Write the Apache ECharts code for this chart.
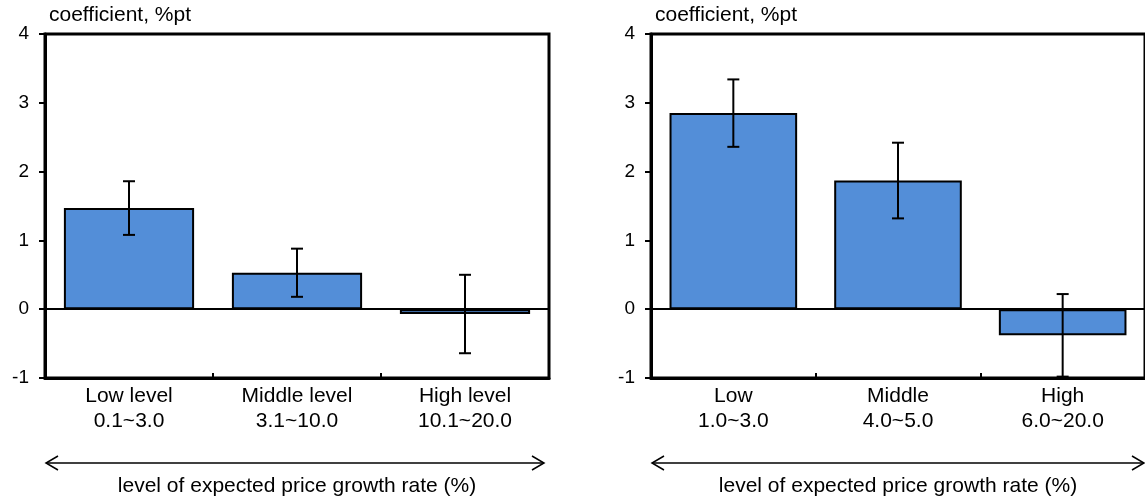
<!DOCTYPE html>
<html>
<head>
<meta charset="utf-8">
<script src="https://cdn.jsdelivr.net/npm/echarts@6/dist/echarts.min.js"></script>
<style>
html,body{margin:0;padding:0;background:#fff;}
#chart{width:1145px;height:502px;}
</style>
</head>
<body>
<div id="chart"></div>
<script>
// ---- data ----
const categoriesLeft = ['Low level\n0.1~3.0', 'Middle level\n3.1~10.0', 'High level\n10.1~20.0'];
const valuesLeft = [1.47, 0.53, -0.07];
const errLowLeft = [1.08, 0.18, -0.64];
const errHighLeft = [1.86, 0.88, 0.50];

const categoriesRight = ['Low\n1.0~3.0', 'Middle\n4.0~5.0', 'High\n6.0~20.0'];
const valuesRight = [2.85, 1.87, -0.38];
const errLowRight = [2.36, 1.32, -0.98];
const errHighRight = [3.34, 2.42, 0.22];

const yTicks = [-1, 0, 1, 2, 3, 4];
const yName = 'coefficient, %pt';
const xName = 'level of expected price growth rate (%)';

// ---- chart ----
const FONT = "'Liberation Sans', Arial, sans-serif";
const chart = echarts.init(document.getElementById('chart'), null, {renderer: 'canvas'});

function errData(lo, hi) {
  return lo.map((v, i) => [i, v, hi[i]]);
}
function renderErr(params, api) {
  const x = api.value(0);
  const lo = api.coord([x, api.value(1)]);
  const hi = api.coord([x, api.value(2)]);
  const cap = 6;
  const st = {stroke: '#000', lineWidth: 2};
  return {
    type: 'group',
    children: [
      {type: 'line', shape: {x1: hi[0], y1: hi[1], x2: lo[0], y2: lo[1]}, style: st},
      {type: 'line', shape: {x1: hi[0] - cap, y1: hi[1], x2: hi[0] + cap, y2: hi[1]}, style: st},
      {type: 'line', shape: {x1: lo[0] - cap, y1: lo[1], x2: lo[0] + cap, y2: lo[1]}, style: st}
    ]
  };
}

function xAxisFor(idx, cats) {
  return {
    type: 'category', gridIndex: idx, data: cats, position: 'bottom',
    axisLine: {onZero: false, lineStyle: {color: '#000', width: 3}},
    axisTick: {show: true, inside: true, length: 5, interval: 0, lineStyle: {color: '#000', width: 2}},
    axisLabel: {color: '#000', fontFamily: FONT, fontSize: 21, lineHeight: 25, margin: 6, interval: 0},
    name: xName, nameLocation: 'middle', nameGap: 98,
    nameTextStyle: {color: '#000', fontFamily: FONT, fontSize: 21},
    splitLine: {show: false}
  };
}
function yAxisFor(idx) {
  return {
    type: 'value', gridIndex: idx, min: yTicks[0], max: yTicks[yTicks.length - 1], interval: 1,
    axisLine: {show: true, lineStyle: {color: '#000', width: 3}},
    axisTick: {show: true, inside: false, length: 6, lineStyle: {color: '#000', width: 2}},
    axisLabel: {color: '#000', fontFamily: FONT, fontSize: 19, margin: 16},
    splitLine: {show: false},
    name: yName, nameLocation: 'end', nameGap: 8,
    nameTextStyle: {color: '#000', fontFamily: FONT, fontSize: 21, align: 'left', padding: [0, 0, 0, 4]}
  };
}
function barSeries(idx, vals) {
  return {
    type: 'bar', xAxisIndex: idx, yAxisIndex: idx, data: vals,
    barCategoryGap: '22.5%',
    itemStyle: {color: '#538ED8', borderColor: '#000', borderWidth: 2},
    silent: true,
    markLine: {
      silent: true, symbol: 'none', label: {show: false},
      lineStyle: {color: '#000', width: 1.8, type: 'solid'},
      data: [{yAxis: 0}]
    }
  };
}
function errSeries(idx, lo, hi) {
  return {
    type: 'custom', xAxisIndex: idx, yAxisIndex: idx, silent: true, z: 5,
    renderItem: renderErr, data: errData(lo, hi)
  };
}

function arrow(x1, x2, y) {
  const h = 12, v = 7, st = {stroke: '#000', lineWidth: 1.5, fill: null};
  return [
    {type: 'line', shape: {x1: x1, y1: y, x2: x2, y2: y}, style: st},
    {type: 'polyline', shape: {points: [[x1 + h, y - v], [x1, y], [x1 + h, y + v]]}, style: st},
    {type: 'polyline', shape: {points: [[x2 - h, y - v], [x2, y], [x2 - h, y + v]]}, style: st}
  ];
}

chart.setOption({
  animation: false,
  backgroundColor: '#fff',
  textStyle: {fontFamily: FONT},
  grid: [
    {left: 45, top: 34, right: 596, bottom: 112, show: true, borderColor: '#000', borderWidth: 3, containLabel: false},
    {left: 651, top: 34, right: -8, bottom: 112, show: true, borderColor: '#000', borderWidth: 3, containLabel: false}
  ],
  xAxis: [xAxisFor(0, categoriesLeft), xAxisFor(1, categoriesRight)],
  yAxis: [yAxisFor(0), yAxisFor(1)],
  series: [
    barSeries(0, valuesLeft), errSeries(0, errLowLeft, errHighLeft),
    barSeries(1, valuesRight), errSeries(1, errLowRight, errHighRight)
  ],
  graphic: [].concat(arrow(46, 544, 463), arrow(652, 1144, 463))
});
</script>
</body>
</html>
